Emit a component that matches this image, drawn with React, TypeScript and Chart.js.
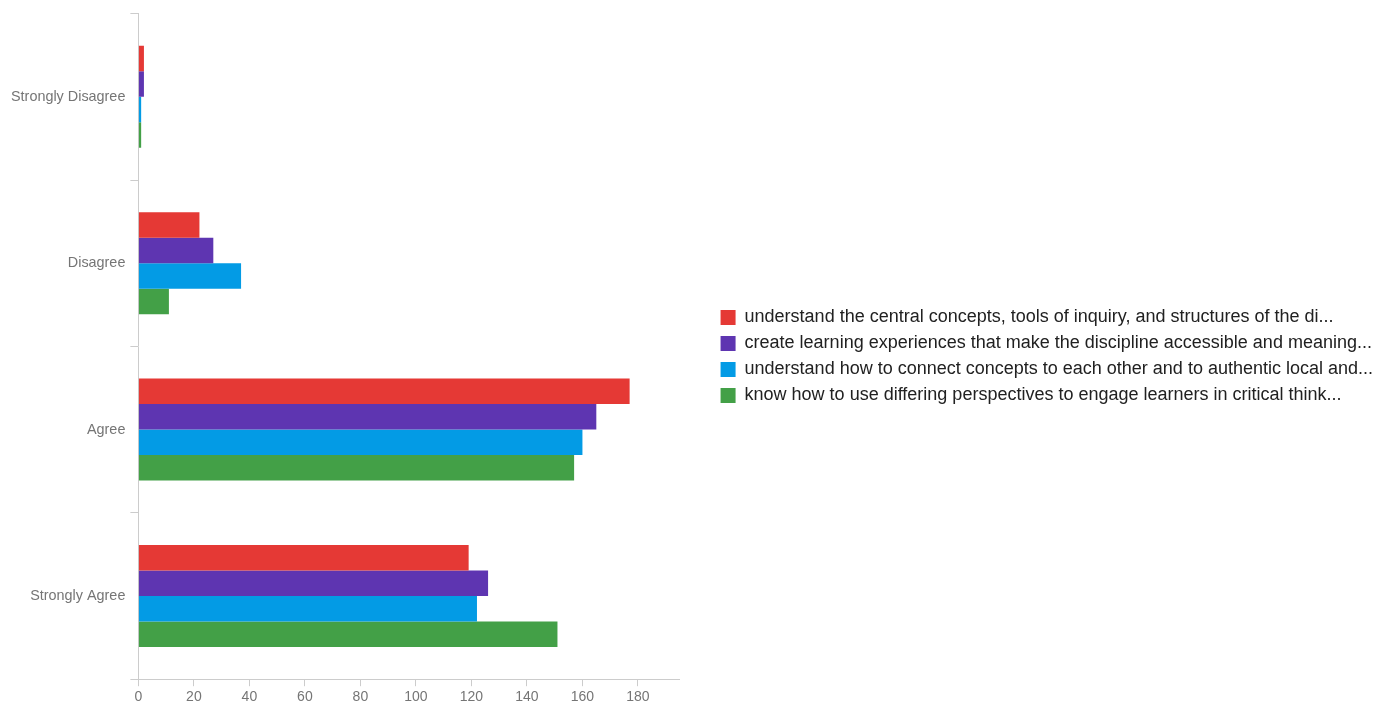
import React, { useEffect, useRef } from "react";
import { Chart, registerables } from "chart.js";

Chart.register(...registerables);

const categories = ["Strongly Disagree", "Disagree", "Agree", "Strongly Agree"];
const seriesLabels = [
  "understand the central concepts, tools of inquiry, and structures of the di...",
  "create learning experiences that make the discipline accessible and meaning...",
  "understand how to connect concepts to each other and to authentic local and...",
  "know how to use differing perspectives to engage learners in critical think...",
];
const series1 = [2, 22, 177, 119];
const series2 = [2, 27, 165, 126];
const series3 = [1, 37, 160, 122];
const series4 = [1, 11, 157, 151];
const colors = ["#e53935", "#5e35b1", "#039be5", "#43a047"];
const xTickStep = 20;
const xMax = 195;
const FONT = "'Liberation Sans', Arial, sans-serif";

export default function App() {
  const ref = useRef<HTMLCanvasElement>(null);
  useEffect(() => {
    if (!ref.current) return;
    const values = [series1, series2, series3, series4];
    const chart = new Chart(ref.current, {
      type: "bar",
      data: {
        labels: categories,
        datasets: values.map((v, i) => ({
          label: seriesLabels[i],
          data: v,
          backgroundColor: colors[i],
          borderWidth: 0,
          barPercentage: 1,
          categoryPercentage: 0.613,
        })),
      },
      options: {
        indexAxis: "y",
        animation: false,
        responsive: true,
        maintainAspectRatio: false,
        layout: { padding: { left: 6, top: 4, bottom: -2, right: 0 } },
        plugins: {
          tooltip: { enabled: false },
          legend: {
            position: "right",
            align: "center",
            maxWidth: 720,
            labels: {
              boxWidth: 15,
              boxHeight: 15,
              padding: 8,
              color: "#212121",
              font: { family: FONT, size: 18 },
            },
          },
        },
        scales: {
          x: {
            type: "linear",
            min: 0,
            max: xMax,
            afterBuildTicks: (s: any) => {
              s.ticks = s.ticks.filter((t: any) => t.value % xTickStep === 0);
            },
            ticks: {
              stepSize: xTickStep,
              color: "#757575",
              padding: 3,
              font: { family: FONT, size: 14 },
            },
            grid: { drawOnChartArea: false, drawTicks: true, tickLength: 7, color: "#cccccc" },
            border: { display: true, color: "#cccccc" },
          },
          y: {
            type: "category",
            ticks: {
              color: "#757575",
              padding: 5,
              font: { family: FONT, size: 14.4 },
            },
            grid: { offset: true, drawOnChartArea: false, drawTicks: true, tickLength: 8, color: "#cccccc" },
            border: { display: true, color: "#cccccc" },
          },
          gap: {
            type: "linear",
            axis: "y",
            position: "right",
            display: true,
            grid: { display: false },
            border: { display: false },
            ticks: { display: false },
            afterFit: (s: any) => {
              s.width = 33;
            },
          },
          gapTop: {
            type: "linear",
            axis: "x",
            position: "top",
            display: true,
            grid: { display: false },
            border: { display: false },
            ticks: { display: false },
            afterFit: (s: any) => {
              s.height = 9;
            },
          },
        },
      } as any,
    });
    return () => chart.destroy();
  }, []);
  return (
    <div style={{ position: "fixed", left: 0, top: 0, width: 1383, height: 707, background: "#fff" }}>
      <canvas ref={ref} />
    </div>
  );
}
